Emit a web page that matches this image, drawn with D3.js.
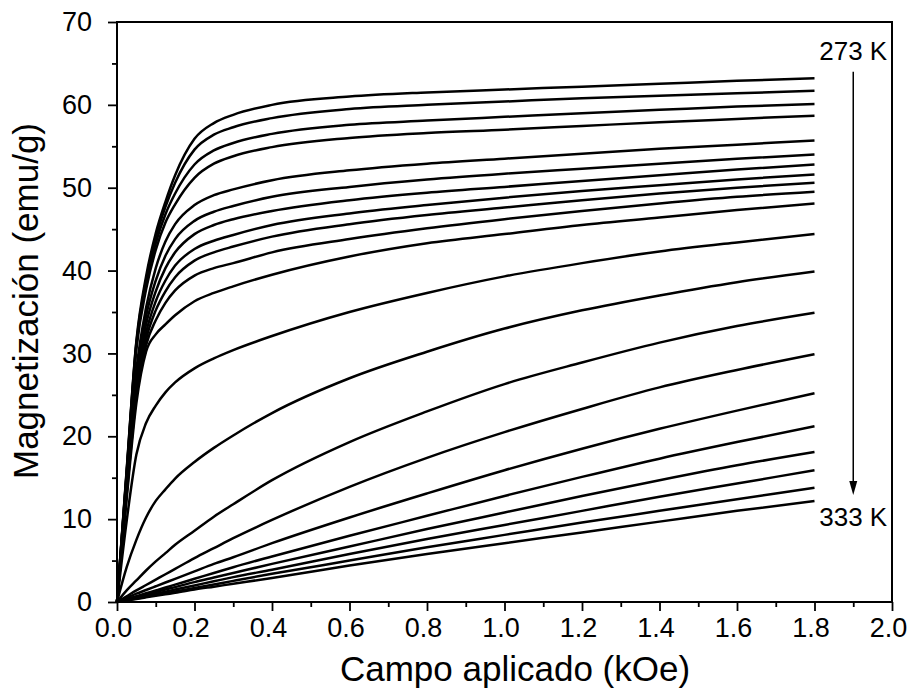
<!DOCTYPE html>
<html>
<head>
<meta charset="utf-8">
<script src="https://cdn.jsdelivr.net/npm/d3@7"></script>
<style>
  html, body { margin: 0; padding: 0; background: #fff; }
  svg { display: block; }
  text { font-family: "Liberation Sans", Arial, sans-serif; fill: #000; }
</style>
</head>
<body>
<svg id="chart" width="910" height="692"></svg>
<script>
// Applied field (kOe) at which every isotherm is sampled
const fieldKOe = [0, 0.025, 0.05, 0.075, 0.1, 0.125, 0.15, 0.2, 0.25, 0.3, 0.4, 0.6, 0.8, 1.0, 1.2, 1.4, 1.6, 1.8];

// Magnetization isotherms (emu/g), 273 K to 333 K in 3 K steps
const m273 = [0, 16.0, 31.5, 39.3, 44.5, 48.3, 51.5, 55.9, 57.8, 58.8, 60.0, 61.0, 61.5, 61.85, 62.2, 62.55, 62.9, 63.2];
const m276 = [0, 15.8, 31.3, 38.8, 44.0, 47.7, 50.6, 54.6, 56.4, 57.3, 58.4, 59.5, 60.0, 60.4, 60.8, 61.1, 61.4, 61.7];
const m279 = [0, 15.6, 31.0, 38.3, 43.3, 46.8, 49.3, 52.8, 54.5, 55.4, 56.5, 57.6, 58.1, 58.55, 59.0, 59.4, 59.8, 60.1];
const m282 = [0, 15.4, 30.5, 37.7, 42.5, 45.8, 48.0, 51.2, 52.9, 53.8, 54.9, 56.0, 56.6, 57.0, 57.45, 57.9, 58.3, 58.7];
const m285 = [0, 14.5, 28.0, 35.5, 40.3, 43.5, 45.6, 47.9, 49.1, 49.8, 50.9, 52.1, 52.9, 53.5, 54.1, 54.7, 55.2, 55.7];
const m288 = [0, 14.2, 27.3, 34.5, 38.8, 41.8, 43.8, 46.0, 47.1, 47.8, 48.9, 50.1, 51.0, 51.7, 52.3, 52.9, 53.5, 54.0];
const m291 = [0, 13.9, 26.7, 33.5, 37.5, 40.3, 42.2, 44.4, 45.5, 46.2, 47.2, 48.5, 49.4, 50.1, 50.8, 51.5, 52.2, 52.8];
const m294 = [0, 13.6, 26.0, 32.5, 36.3, 38.8, 40.6, 42.6, 43.6, 44.3, 45.5, 46.9, 47.9, 48.8, 49.6, 50.3, 51.0, 51.6];
const m297 = [0, 13.3, 25.4, 31.7, 35.2, 37.5, 39.2, 41.2, 42.2, 42.9, 44.1, 45.6, 46.7, 47.6, 48.5, 49.3, 50.0, 50.6];
const m300 = [0, 13.0, 24.8, 31.0, 34.0, 36.1, 37.6, 39.4, 40.3, 40.9, 42.2, 43.8, 45.1, 46.2, 47.2, 48.1, 48.9, 49.5];
const m303 = [0, 12.5, 24.0, 30.2, 32.3, 33.5, 34.6, 36.3, 37.3, 38.1, 39.5, 41.7, 43.3, 44.4, 45.5, 46.4, 47.3, 48.1];
const m306 = [0, 9.8, 17.8, 21.6, 23.7, 25.3, 26.5, 28.2, 29.4, 30.4, 32.1, 35.0, 37.3, 39.3, 40.9, 42.3, 43.4, 44.4];
const m309 = [0, 4.2, 7.5, 10.2, 12.2, 13.6, 14.9, 16.9, 18.6, 20.1, 22.8, 27.0, 30.2, 33.0, 35.2, 37.0, 38.6, 39.9];
const m312 = [0, 1.4, 2.6, 3.8, 4.9, 5.9, 6.9, 8.6, 10.3, 11.8, 14.7, 19.3, 23.0, 26.3, 28.9, 31.3, 33.3, 34.9];
const m315 = [0, 0.7, 1.4, 2.05, 2.7, 3.35, 4.0, 5.3, 6.5, 7.7, 9.9, 13.9, 17.4, 20.5, 23.3, 25.9, 28.0, 29.9];
const m318 = [0, 0.5, 1.0, 1.45, 1.9, 2.35, 2.8, 3.7, 4.6, 5.4, 7.1, 10.2, 13.1, 15.9, 18.5, 20.9, 23.1, 25.2];
const m321 = [0, 0.35, 0.7, 1.05, 1.4, 1.75, 2.1, 2.8, 3.5, 4.2, 5.5, 8.0, 10.4, 12.8, 15.1, 17.3, 19.3, 21.2];
const m324 = [0, 0.3, 0.6, 0.9, 1.2, 1.5, 1.8, 2.4, 2.95, 3.5, 4.6, 6.7, 8.8, 10.8, 12.8, 14.7, 16.5, 18.1];
const m327 = [0, 0.25, 0.5, 0.75, 1.0, 1.25, 1.5, 2.0, 2.5, 3.0, 3.9, 5.8, 7.6, 9.3, 11.0, 12.7, 14.3, 15.9];
const m330 = [0, 0.2, 0.42, 0.63, 0.85, 1.06, 1.27, 1.7, 2.12, 2.55, 3.4, 5.0, 6.6, 8.1, 9.6, 11.0, 12.4, 13.8];
const m333 = [0, 0.19, 0.37, 0.56, 0.75, 0.93, 1.1, 1.5, 1.85, 2.2, 2.9, 4.4, 5.8, 7.1, 8.4, 9.7, 11.0, 12.2];

const temperaturesK = [273, 276, 279, 282, 285, 288, 291, 294, 297, 300, 303, 306, 309, 312, 315, 318, 321, 324, 327, 330, 333];
const isotherms = [m273, m276, m279, m282, m285, m288, m291, m294, m297, m300, m303, m306, m309, m312, m315, m318, m321, m324, m327, m330, m333];

// Axis ticks
const xTicks = [0, 0.2, 0.4, 0.6, 0.8, 1.0, 1.2, 1.4, 1.6, 1.8, 2.0];
const xMinorTicks = [0.1, 0.3, 0.5, 0.7, 0.9, 1.1, 1.3, 1.5, 1.7, 1.9];
const yTicks = [0, 10, 20, 30, 40, 50, 60, 70];
const yMinorTicks = [5, 15, 25, 35, 45, 55, 65];

const xLabel = "Campo aplicado (kOe)";
const yLabel = "Magnetización (emu/g)";
const firstTempLabel = temperaturesK[0] + " K";
const lastTempLabel = temperaturesK[temperaturesK.length - 1] + " K";

// Plot geometry
const plot = { left: 117, right: 892, top: 22, bottom: 602 };
const svg = d3.select("#chart");

const x = d3.scaleLinear().domain([0, 2]).range([plot.left, plot.right]);
const y = d3.scaleLinear().domain([0, 70]).range([plot.bottom, plot.top]);

// Isotherm curves
const line = d3.line()
  .x((d, i) => x(fieldKOe[i]))
  .y(d => y(d))
  .curve(d3.curveMonotoneX);

svg.append("g")
  .selectAll("path")
  .data(isotherms)
  .join("path")
  .attr("d", line)
  .attr("fill", "none")
  .attr("stroke", "#000")
  .attr("stroke-width", 2.5)
  .attr("stroke-linejoin", "round");

// Frame
svg.append("rect")
  .attr("x", plot.left).attr("y", plot.top)
  .attr("width", plot.right - plot.left)
  .attr("height", plot.bottom - plot.top)
  .attr("fill", "none")
  .attr("stroke", "#000")
  .attr("stroke-width", 2);

// Bottom axis: major + minor ticks
const xAxis = svg.append("g")
  .attr("transform", `translate(0,${plot.bottom})`)
  .call(d3.axisBottom(x).tickValues(xTicks).tickSize(9).tickSizeOuter(0)
    .tickPadding(7).tickFormat(d3.format(".1f")));
svg.append("g")
  .attr("transform", `translate(0,${plot.bottom})`)
  .call(d3.axisBottom(x).tickValues(xMinorTicks).tickSize(5).tickSizeOuter(0).tickFormat(""));

// Left axis: major + minor ticks
const yAxis = svg.append("g")
  .attr("transform", `translate(${plot.left},0)`)
  .call(d3.axisLeft(y).tickValues(yTicks).tickSize(9).tickSizeOuter(0)
    .tickPadding(16).tickFormat(d3.format("d")));
svg.append("g")
  .attr("transform", `translate(${plot.left},0)`)
  .call(d3.axisLeft(y).tickValues(yMinorTicks).tickSize(5).tickSizeOuter(0).tickFormat(""));

svg.selectAll(".domain").remove();
svg.selectAll(".tick line").attr("stroke", "#000").attr("stroke-width", 1.8);
xAxis.selectAll(".tick text").attr("font-size", 27).attr("dx", -4).attr("fill", "#000");
yAxis.selectAll(".tick text").attr("font-size", 27).attr("fill", "#000");

// Axis titles
svg.append("text")
  .attr("x", 515).attr("y", 681)
  .attr("text-anchor", "middle")
  .attr("font-size", 35)
  .text(xLabel);

svg.append("text")
  .attr("transform", `translate(38,301) rotate(-90)`)
  .attr("text-anchor", "middle")
  .attr("font-size", 35)
  .text(yLabel);

// Temperature arrow
const arrowX = x(1.9);
const arrowTop = y(64.0);
const arrowTip = y(12.9);

svg.append("path")
  .attr("d", `M${arrowX},${arrowTop} V${arrowTip - 6}`)
  .attr("stroke", "#000")
  .attr("stroke-width", 1.5)
  .attr("fill", "none");
svg.append("path")
  .attr("d", `M${arrowX - 4},${arrowTip - 14} L${arrowX + 4},${arrowTip - 14} L${arrowX},${arrowTip} Z`)
  .attr("fill", "#000");

svg.append("text")
  .attr("x", arrowX).attr("y", 60)
  .attr("text-anchor", "middle")
  .attr("font-size", 26)
  .text(firstTempLabel);

svg.append("text")
  .attr("x", arrowX).attr("y", 526)
  .attr("text-anchor", "middle")
  .attr("font-size", 26)
  .text(lastTempLabel);
</script>
</body>
</html>
